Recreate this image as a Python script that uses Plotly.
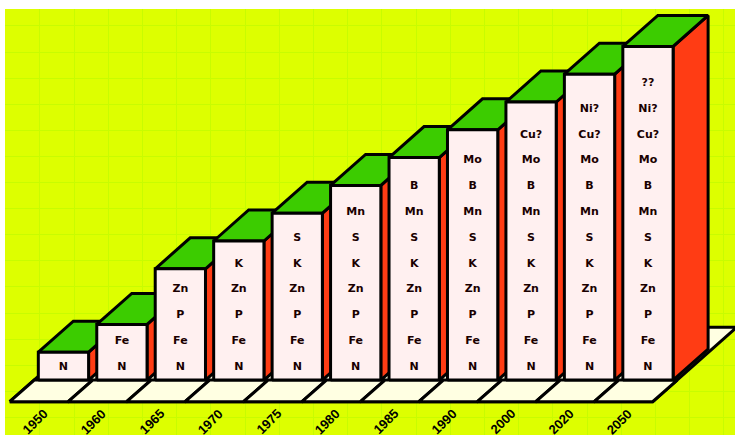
import plotly.graph_objects as go

# Decades and the number of plant nutrients recognised as essential by then
years = ["1950", "1960", "1965", "1970", "1975", "1980", "1985", "1990", "2000", "2020", "2050"]
nutrient_count = [1, 2, 4, 5, 6, 7, 8, 9, 10, 11, 12]
# Nutrients in the order they were added (bottom of each bar upwards)
nutrient_order = ["N", "Fe", "P", "Zn", "K", "S", "Mn", "B", "Mo", "Cu?", "Ni?", "??"]

# Colours
BG = "#DDFF00"
GRID = "#C8FC00"
FRONT = "#FFF0F0"
TOP = "#3CCC00"
SIDE = "#FF3C14"
FLOOR = "#FFFFE2"
EDGE = "#000000"

# Oblique projection: one unit of depth shifts right and up
HALF_W = 0.43
DX, DY = 0.599, 1.115
FLOOR_Z0, FLOOR_Z1 = -0.7, 1.7
LABEL_STEP, LABEL_BASE = 0.928, 0.468


def proj(x, y, z):
    return x + DX * z, y + DY * z


def poly(points, fill, width=3):
    xs, ys = zip(*[proj(*p) for p in points])
    xs = list(xs) + [xs[0]]
    ys = list(ys) + [ys[0]]
    return go.Scatter(x=xs, y=ys, mode="lines", fill="toself", fillcolor=fill,
                      line=dict(color=EDGE, width=width), hoverinfo="skip",
                      showlegend=False)


fig = go.Figure()

n = len(years)
x_left, x_right = -0.5, n - 0.5

# Floor slab
fig.add_trace(poly([(x_left, 0, FLOOR_Z0), (x_right, 0, FLOOR_Z0),
                    (x_right, 0, FLOOR_Z1), (x_left, 0, FLOOR_Z1)], FLOOR))
# Floor cells in front of each bar
for i in range(n):
    a, b = i - 0.5, i + 0.5
    fig.add_trace(poly([(a, 0, FLOOR_Z0), (b, 0, FLOOR_Z0), (b, 0, 0), (a, 0, 0)], FLOOR))

# Bars, drawn left to right so each one hides the side of the previous one
for i, h in enumerate(nutrient_count):
    l, r = i - HALF_W, i + HALF_W
    fig.add_trace(poly([(r, 0, 0), (r, 0, 1), (r, h, 1), (r, h, 0)], SIDE))
    fig.add_trace(poly([(l, h, 0), (r, h, 0), (r, h, 1), (l, h, 1)], TOP))
    fig.add_trace(poly([(l, 0, 0), (r, 0, 0), (r, h, 0), (l, h, 0)], FRONT))
    names = nutrient_order[:h]
    fig.add_trace(go.Scatter(
        x=[i] * h, y=[LABEL_BASE + LABEL_STEP * k for k in range(h)],
        mode="text", text=names, textposition="middle center",
        textfont=dict(family="DejaVu Sans", size=11, color="#1A0000", weight="bold"),
        hoverinfo="skip", showlegend=False))

# Year labels under the floor
for i, yr in enumerate(years):
    fig.add_annotation(x=i - 0.48, y=-1.51, text=yr, showarrow=False,
                       textangle=-45, xref="x", yref="y",
                       font=dict(family="Liberation Sans", size=13, color="#000000", weight="bold"))

fig.update_layout(
    width=735, height=435,
    margin=dict(l=5, r=0, t=9, b=0),
    paper_bgcolor="white", plot_bgcolor=BG,
    xaxis=dict(range=[-1.0, 11.489], showticklabels=False, zeroline=False,
               showgrid=True, gridcolor=GRID, gridwidth=1, tick0=-0.402, dtick=0.5851,
               ticks="", fixedrange=True),
    yaxis=dict(range=[-1.978, 13.345], showticklabels=False, zeroline=False,
               showgrid=True, gridcolor=GRID, gridwidth=1, tick0=12.734, dtick=0.9388,
               ticks="", fixedrange=True),
)

fig.write_html("out.html")
